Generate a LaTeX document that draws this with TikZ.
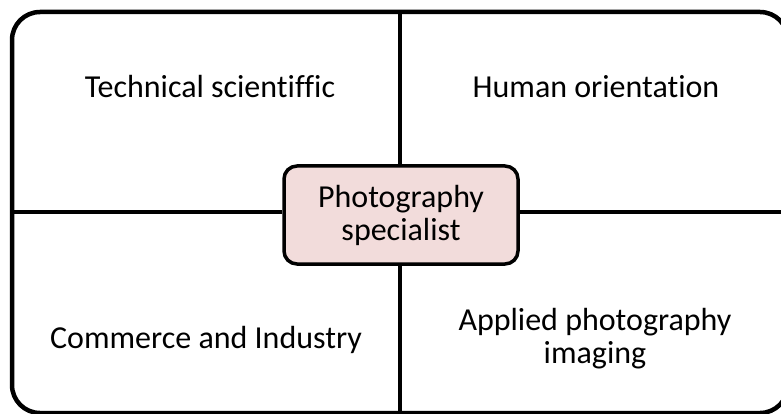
\documentclass[tikz,border=0pt]{standalone}
\usepackage{fontspec}
\setmainfont[Ligatures=NoCommon]{Carlito}
\usepackage{tikz}
\usetikzlibrary{backgrounds}
\pgfdeclarelayer{edgelayer}
\pgfdeclarelayer{nodelayer}
\pgfsetlayers{edgelayer,nodelayer,main}
\definecolor{lpink}{HTML}{F2DCDB}
\tikzstyle{frame}=[rectangle, draw=black, line width=4.5, rounded corners=28, inner sep=0, minimum width=776, minimum height=401]
\tikzstyle{hub}=[rectangle, fill=lpink, draw=black, line width=3.5, rounded corners=13, minimum width=234, minimum height=98, align=center, font=\fontsize{32}{33}\selectfont]
\tikzstyle{field}=[align=center, font=\fontsize{32}{33}\selectfont, anchor=base]
\tikzstyle{divider}=[-, draw=black, line width=4.5]

\begin{document}
\begin{tikzpicture}[x=1pt, y=-1pt]
            \useasboundingbox (0, 0) rectangle (781, 414);
            \begin{pgfonlayer}{nodelayer}
                \node [style=frame] (F) at (400, 212.5) {};
                \node [style=hub] (S) at (401, 215) {Photography\\specialist};
                \node [style=field] (TS) at (210, 98) {Technical scientiffic};
                \node [style=field] (HO) at (596, 98) {Human orientation};
                \node [style=field] (CI) at (206, 348) {Commerce and Industry};
                \node [style=field] (AP) at (595, 363) {Applied photography\\imaging};
            \end{pgfonlayer}
            \begin{pgfonlayer}{edgelayer}
                \draw [style=divider] (S.north -| F.north) to (F.north);
                \draw [style=divider] (S.south -| F.south) to (F.south);
                \draw [style=divider] (S.west |- 0, 212) to (F.west |- 0, 212);
                \draw [style=divider] (S.east |- 0, 212) to (F.east |- 0, 212);
            \end{pgfonlayer}
        \end{tikzpicture}
\end{document}
